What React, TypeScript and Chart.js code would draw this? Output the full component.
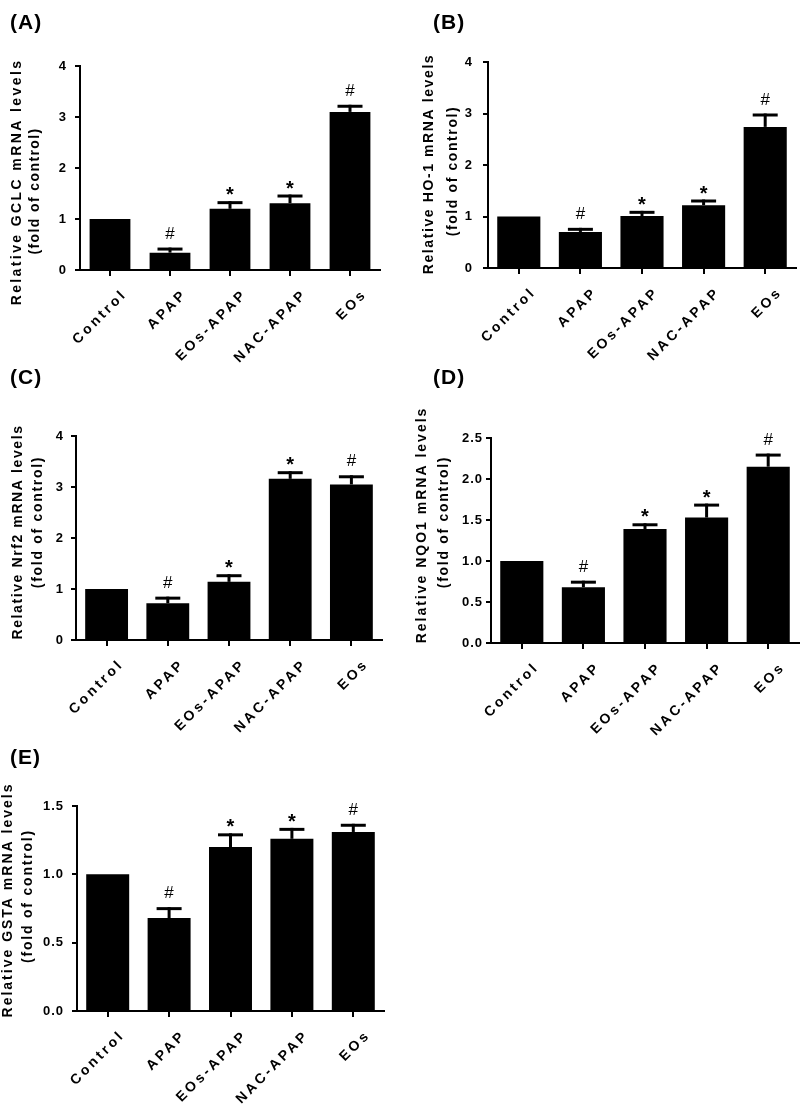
import React, { useEffect, useRef } from "react";
import { Chart, registerables } from "chart.js";

Chart.register(...registerables);

const FONT = "'Liberation Sans', Arial, Helvetica, sans-serif";
Chart.defaults.font.family = FONT;
Chart.defaults.color = "#000";

// ---------- data ----------
const categories = ["Control", "APAP", "EOs-APAP", "NAC-APAP", "EOs"];
const significance = ["", "#", "*", "*", "#"];

const gclcMeans = [1.0, 0.34, 1.2, 1.31, 3.1];
const gclcSem = [0, 0.1, 0.15, 0.17, 0.14];

const ho1Means = [1.0, 0.7, 1.01, 1.22, 2.74];
const ho1Sem = [0, 0.08, 0.1, 0.11, 0.26];

const nrf2Means = [1.0, 0.72, 1.14, 3.16, 3.05];
const nrf2Sem = [0, 0.13, 0.15, 0.15, 0.18];

const nqo1Means = [1.0, 0.68, 1.39, 1.53, 2.15];
const nqo1Sem = [0, 0.08, 0.07, 0.17, 0.16];

const gstaMeans = [1.0, 0.68, 1.2, 1.26, 1.31];
const gstaSem = [0, 0.08, 0.1, 0.08, 0.06];

const ticksToFour = [0, 1, 2, 3, 4];
const ticksNqo1 = [0, 0.5, 1.0, 1.5, 2.0, 2.5];
const ticksGsta = [0, 0.5, 1.0, 1.5];

// ---------- layout / style config ----------
const panels = [
  {
    letter: "(A)", gene: "GCLC", means: gclcMeans, sems: gclcSem, ticks: ticksToFour, decimals: 0,
    box: { left: 0, top: 0, w: 400, h: 366 }, area: { l: 80, t: 66, r: 380, b: 270 },
    title: { x: 10, y: 23 }, y1: { x: 17, y: 182, ls: 2.4 }, y2: { x: 35, y: 191, ls: 1.4 }, yPad: 8, bar: 0.68,
  },
  {
    letter: "(B)", gene: "HO-1", means: ho1Means, sems: ho1Sem, ticks: ticksToFour, decimals: 0,
    box: { left: 400, top: 0, w: 400, h: 366 }, area: { l: 88, t: 62, r: 396, b: 268 },
    title: { x: 33, y: 23 }, y1: { x: 29, y: 164, ls: 1.6 }, y2: { x: 53, y: 171, ls: 1.6 }, yPad: 10, bar: 0.7,
  },
  {
    letter: "(C)", gene: "Nrf2", means: nrf2Means, sems: nrf2Sem, ticks: ticksToFour, decimals: 0,
    box: { left: 0, top: 366, w: 400, h: 370 }, area: { l: 76, t: 70, r: 382, b: 274 },
    title: { x: 10, y: 12 }, y1: { x: 18, y: 166, ls: 1.6 }, y2: { x: 38, y: 156, ls: 1.7 }, yPad: 7, bar: 0.7,
  },
  {
    letter: "(D)", gene: "NQO1", means: nqo1Means, sems: nqo1Sem, ticks: ticksNqo1, decimals: 1,
    box: { left: 400, top: 366, w: 400, h: 370 }, area: { l: 91, t: 72, r: 399, b: 277 },
    title: { x: 33, y: 12 }, y1: { x: 22, y: 159, ls: 2.0 }, y2: { x: 44, y: 156, ls: 1.7 }, yPad: 3, bar: 0.7,
  },
  {
    letter: "(E)", gene: "GSTA", means: gstaMeans, sems: gstaSem, ticks: ticksGsta, decimals: 1,
    box: { left: 0, top: 736, w: 400, h: 372 }, area: { l: 77, t: 70, r: 384, b: 275 },
    title: { x: 10, y: 22 }, y1: { x: 8, y: 164, ls: 2.0 }, y2: { x: 28, y: 160, ls: 1.8 }, yPad: 8, bar: 0.7,
  },
];

type PanelCfg = (typeof panels)[number];

function makeOverlay(p: PanelCfg) {
  return {
    id: "overlay",
    beforeDraw(chart: any) {
      (chart.ctx as any).letterSpacing = "1px";
    },
    afterDatasetsDraw(chart: any) {
      const ctx = chart.ctx as CanvasRenderingContext2D;
      const yScale = chart.scales.y;
      const meta = chart.getDatasetMeta(0);
      ctx.save();
      (ctx as any).letterSpacing = "0px";
      ctx.strokeStyle = "#000";
      ctx.fillStyle = "#000";
      ctx.lineWidth = 3;
      ctx.lineCap = "butt";
      p.means.forEach((m, i) => {
        const x = meta.data[i].x;
        const yBar = yScale.getPixelForValue(m);
        const sem = p.sems[i];
        let yTop = yBar;
        if (sem > 0) {
          yTop = yScale.getPixelForValue(m + sem);
          ctx.beginPath();
          ctx.moveTo(x, yBar);
          ctx.lineTo(x, yTop);
          ctx.stroke();
          ctx.beginPath();
          ctx.moveTo(x - 12.5, yTop + 1.5);
          ctx.lineTo(x + 12.5, yTop + 1.5);
          ctx.stroke();
        }
        const mark = significance[i];
        if (mark) {
          ctx.textAlign = "center";
          ctx.textBaseline = "alphabetic";
          if (mark === "#") {
            ctx.font = `17px ${FONT}`;
            ctx.fillText(mark, x, yTop - 9);
          } else {
            ctx.font = `bold 20px ${FONT}`;
            ctx.fillText(mark, x, yTop);
          }
        }
      });
      // panel letter
      ctx.font = `bold 21px ${FONT}`;
      (ctx as any).letterSpacing = "1px";
      ctx.textAlign = "left";
      ctx.textBaseline = "middle";
      ctx.fillText(p.letter, p.title.x, p.title.y);
      // y-axis titles
      ctx.font = `bold 14px ${FONT}`;
      ctx.textAlign = "center";
      ctx.textBaseline = "middle";
      ctx.save();
      ctx.translate(p.y1.x, p.y1.y);
      ctx.rotate(-Math.PI / 2);
      (ctx as any).letterSpacing = `${p.y1.ls}px`;
      ctx.fillText(`Relative ${p.gene} mRNA levels`, 0, 0);
      ctx.restore();
      ctx.save();
      ctx.translate(p.y2.x, p.y2.y);
      ctx.rotate(-Math.PI / 2);
      (ctx as any).letterSpacing = `${p.y2.ls}px`;
      ctx.fillText("(fold of control)", 0, 0);
      ctx.restore();
      ctx.restore();
      (ctx as any).letterSpacing = "3px";
    },
    afterDraw(chart: any) {
      (chart.ctx as any).letterSpacing = "0px";
    },
  };
}

function Panel({ p }: { p: PanelCfg }) {
  const ref = useRef<HTMLCanvasElement>(null);
  useEffect(() => {
    const canvas = ref.current;
    if (!canvas) return;
    const chart = new Chart(canvas, {
      type: "bar",
      data: {
        labels: categories,
        datasets: [
          {
            data: p.means,
            backgroundColor: "#000",
            borderWidth: 0,
            barPercentage: p.bar,
            categoryPercentage: 1,
          },
        ],
      },
      options: {
        responsive: false,
        animation: false,
        devicePixelRatio: 1,
        layout: { padding: { left: 0, top: p.area.t, right: p.box.w - p.area.r, bottom: 0 } },
        plugins: { legend: { display: false }, tooltip: { enabled: false } },
        scales: {
          x: {
            offset: true,
            grid: {
              offset: false,
              drawOnChartArea: false,
              drawTicks: true,
              tickLength: 6,
              lineWidth: 2,
              color: "#000",
            },
            border: { display: true, color: "#000", width: 2, z: 1 },
            ticks: {
              z: 1,
              autoSkip: false,
              minRotation: 45,
              maxRotation: 45,
              labelOffset: 15,
              padding: 10,
              color: "#000",
              font: { size: 14, weight: "bold", family: FONT },
            },
            afterFit: (s: any) => {
              s.height = p.box.h - p.area.b;
            },
          },
          y: {
            min: 0,
            max: p.ticks[p.ticks.length - 1],
            afterBuildTicks: (s: any) => {
              s.ticks = p.ticks.map((v) => ({ value: v }));
            },
            grid: {
              drawOnChartArea: false,
              drawTicks: true,
              tickLength: 5,
              lineWidth: 2,
              color: "#000",
            },
            border: { display: true, color: "#000", width: 2 },
            ticks: {
              padding: p.yPad,
              color: "#000",
              font: { size: 13, weight: "bold", family: FONT },
              callback: (v: any) => Number(v).toFixed(p.decimals),
            },
            afterFit: (s: any) => {
              s.width = p.area.l;
            },
          },
        },
      } as any,
      plugins: [makeOverlay(p)],
    });
    return () => chart.destroy();
  }, [p]);
  return (
    <canvas
      ref={ref}
      width={p.box.w}
      height={p.box.h}
      style={{
        position: "absolute",
        left: p.box.left,
        top: p.box.top,
        width: p.box.w,
        height: p.box.h,
      }}
    />
  );
}

export default function App() {
  return (
    <div
      style={{
        position: "absolute",
        left: 0,
        top: 0,
        width: 800,
        height: 1108,
        background: "#fff",
        overflow: "hidden",
      }}
    >
      {panels.map((p) => (
        <Panel key={p.letter} p={p} />
      ))}
    </div>
  );
}
